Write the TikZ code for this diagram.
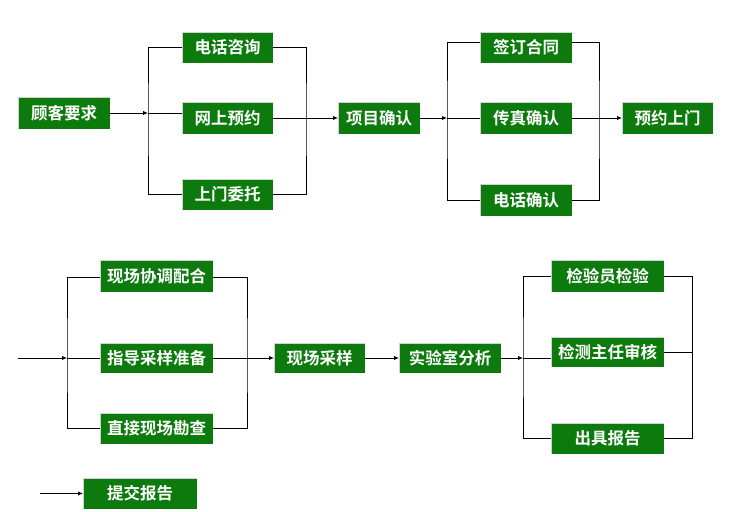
\documentclass[tikz,border=0pt]{standalone}
\usepackage{fontspec}
\newfontfamily\cjk{Noto Sans CJK SC}[BoldFont={Noto Sans CJK SC Bold}]
\usetikzlibrary{arrows.meta}
\definecolor{boxgreen}{RGB}{12,122,12}
\tikzset{
  box/.style={fill=boxgreen, text=white, font=\cjk\bfseries\fontsize{16.5}{18}\selectfont,
    minimum height=31pt, inner sep=0pt, outer sep=0pt,
    append after command={
      (\tikzlastnode.south west) edge[draw=gray!35, line width=0.8pt] (\tikzlastnode.north west)
      (\tikzlastnode.north west) edge[draw=gray!35, line width=0.8pt] (\tikzlastnode.north east)}},
  w4/.style={box, minimum width=91pt},
  w5/.style={box, minimum width=102pt},
  w6/.style={box, minimum width=113pt},
  conn/.style={draw=black, line width=1pt},
  arr/.style={conn, -{Latex[length=5pt,width=4.5pt]}},
}
\begin{document}
\begin{tikzpicture}[x=1pt,y=-1pt]
\useasboundingbox (0,0) rectangle (733,511);
% top row
\node[w4, minimum width=92pt] (gk) at (64,113) {顾客要求};
\node[w4] (dh) at (227.5,47.5) {电话咨询};
\node[w4] (ws) at (227.5,118) {网上预约};
\node[w4] (sm) at (227.5,194.5) {上门委托};
\node[w4, minimum width=82pt] (xm) at (379,118) {项目确认};
\node[w4, minimum width=92pt] (qd) at (526,47.5) {签订合同};
\node[w4, minimum width=92pt] (cz) at (526,118) {传真确认};
\node[w4, minimum width=92pt] (dq) at (526,200) {电话确认};
\node[w4] (yy) at (667.5,118) {预约上门};
% bottom row
\node[w6, minimum height=32pt] (xt) at (156.5,276) {现场协调配合};
\node[w6, minimum height=30pt] (zd) at (156.5,358) {指导采样准备};
\node[w6] (zj) at (156.5,428.5) {直接现场勘查};
\node[w4, minimum height=30pt] (xc) at (319.5,358) {现场采样};
\node[w5, minimum height=30pt] (sy) at (450,358) {实验室分析};
\node[w6, minimum height=32pt] (jy) at (607.5,276) {检验员检验};
\node[w6, minimum height=30pt] (jc) at (607.5,352) {检测主任审核};
\node[w6] (cj) at (607.5,438.5) {出具报告};
\node[w6, minimum width=114pt] (tj) at (140,493.5) {提交报告};
% bus coordinates
\coordinate (b1) at (148,113);
\coordinate (b2) at (447,118);
\coordinate (b3) at (67,358);
\coordinate (b4) at (523,358);
\coordinate (in3) at (18,358);
\coordinate (in5) at (40,493.5);
% group 1
\draw[arr] (gk.east |- b1) -- (b1);
\draw[conn] (b1) -- (ws.west |- b1);
\draw[conn] (dh.west) -| (148,118) |- (sm.west);
\draw[conn] (dh.east) -| (306,118) |- (sm.east);
\draw[arr] (ws.east) -- (xm.west);
% group 2
\draw[arr] (xm.east) -- (b2);
\draw[conn] (b2) -- (cz.west);
\draw[conn] (qd.west |- 0,43) -| (b2) |- (dq.west);
\draw[conn] (qd.east |- 0,43) -| (599,118) |- (dq.east);
\draw[arr] (cz.east) -- (yy.west);
% group 3
\draw[arr] (in3) -- (b3);
\draw[conn] (b3) -- (zd.west);
\draw[conn] (xt.west |- 0,277) -| (b3) |- (zj.west);
\draw[conn] (xt.east |- 0,277) -| (247,358) |- (zj.east);
\draw[arr] (zd.east) -- (xc.west);
\draw[arr] (xc.east) -- (sy.west);
% group 4
\draw[arr] (sy.east) -- (b4);
\draw[conn] (b4) -- (jc.west |- b4);
\draw[conn] (jy.west) -| (b4) |- (cj.west);
\draw[conn] (jy.east) -| (692,352) |- (cj.east);
\draw[conn] (jc.east) -- (692,352);
% report
\draw[arr] (in5) -- (tj.west);
\end{tikzpicture}
\end{document}
